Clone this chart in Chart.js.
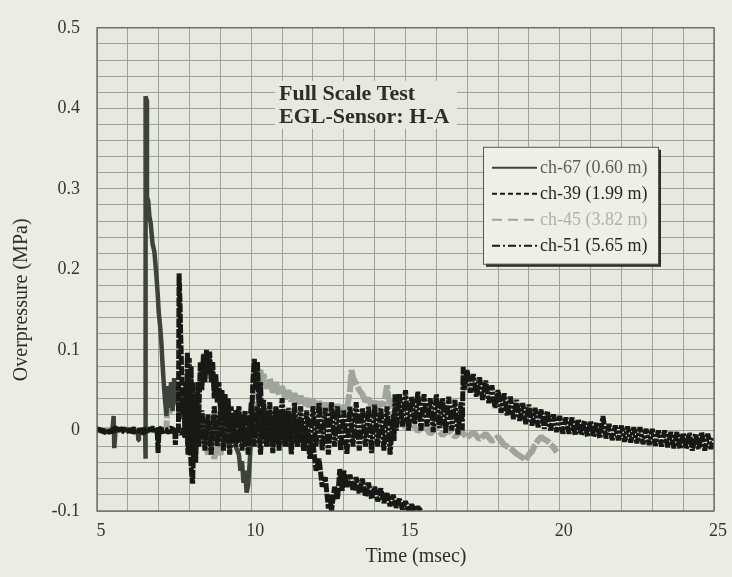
<!DOCTYPE html>
<html>
<head>
<meta charset="utf-8">
<script src="https://cdn.jsdelivr.net/npm/chart.js@4.4.1/dist/chart.umd.min.js"></script>
<style>
  html, body { margin: 0; padding: 0; background: #ecece4; }
  #wrap { width: 732px; height: 577px; }
</style>
</head>
<body>
<div id="wrap"><canvas id="blastChart" width="732" height="577"></canvas></div>
<script>
// pressure traces: [time (msec), overpressure (MPa)]
const ch67 = [[5.0,0.001],[5.3,-0.002],[5.5,0.001],[5.54,0.018],[5.56,-0.022],[5.6,0.0],[5.9,0.002],[6.2,-0.001],[6.32,0.0],[6.34,-0.012],[6.36,0.001],[6.5,0.0],[6.56,-0.001],[6.57,-0.035],[6.58,0.415],[6.61,0.41],[6.62,0.29],[6.66,0.285],[6.7,0.265],[6.74,0.258],[6.8,0.232],[6.86,0.222],[6.93,0.19],[6.97,0.168],[7.0,0.147],[7.05,0.128],[7.09,0.107],[7.12,0.085],[7.15,0.067],[7.18,0.05],[7.21,0.036],[7.25,0.018],[7.3,0.055],[7.35,0.028],[7.4,0.06],[7.45,0.024],[7.5,0.065],[7.55,0.033],[7.6,0.056],[7.65,0.02],[7.7,0.05],[7.75,0.014],[7.8,0.04],[7.85,0.0],[7.9,0.03],[7.95,-0.02],[8.0,0.02],[8.1,-0.022],[8.2,0.03],[8.3,-0.015],[8.4,0.02],[8.5,-0.02],[8.6,0.015],[8.7,-0.025],[8.8,0.02],[8.9,-0.015],[9.0,0.025],[9.1,-0.02],[9.2,0.02],[9.3,-0.025],[9.4,0.015],[9.5,-0.02],[9.6,-0.03],[9.65,-0.05],[9.7,-0.038],[9.75,-0.065],[9.8,-0.05],[9.85,-0.077],[9.9,-0.068],[9.95,-0.04],[10.0,-0.005],[10.1,0.02],[10.2,-0.01],[10.3,0.025],[10.4,-0.015],[10.5,0.02],[10.6,-0.02],[10.7,0.015],[10.8,-0.018],[10.9,0.02],[11.0,-0.015],[11.1,0.018],[11.2,-0.02],[11.3,0.015],[11.4,-0.012],[11.5,0.012],[11.6,-0.01],[11.7,0.006]];

const ch39 = [[5.0,0.002],[5.4,-0.002],[5.8,0.002],[6.2,-0.002],[6.6,0.002],[6.95,0.0],[6.98,-0.028],[7.01,0.003],[7.3,-0.002],[7.52,0.0],[7.54,-0.018],[7.57,0.002],[7.64,0.0],[7.66,0.195],[7.69,0.16],[7.71,0.123],[7.73,0.095],[7.75,0.067],[7.78,0.02],[7.82,0.04],[7.86,-0.01],[7.9,0.03],[7.95,-0.03],[8.0,0.01],[8.05,-0.045],[8.1,-0.066],[8.13,-0.02],[8.18,0.03],[8.22,0.0],[8.27,0.06],[8.3,0.02],[8.35,0.085],[8.4,0.05],[8.45,0.095],[8.5,0.06],[8.55,0.1],[8.6,0.07],[8.65,0.098],[8.7,0.06],[8.75,0.085],[8.8,0.04],[8.85,0.07],[8.9,0.035],[8.95,0.06],[9.0,0.025],[9.05,0.05],[9.1,0.015],[9.15,0.045],[9.2,0.01],[9.25,0.04],[9.3,0.0],[9.35,0.03],[9.4,-0.01],[9.5,0.025],[9.6,-0.015],[9.7,0.02],[9.8,-0.02],[9.9,0.015],[10.0,-0.01],[10.05,0.06],[10.1,0.089],[10.15,0.05],[10.2,0.085],[10.25,0.03],[10.3,0.06],[10.35,0.0],[10.4,0.03],[10.5,-0.012],[10.6,0.025],[10.7,-0.016],[10.8,0.028],[10.9,-0.01],[11.0,0.022],[11.1,-0.018],[11.2,0.02],[11.3,-0.015],[11.4,0.018],[11.5,-0.02],[11.6,0.01],[11.7,-0.025],[11.8,0.0],[11.9,-0.035],[12.0,-0.015],[12.1,-0.05],[12.2,-0.035],[12.3,-0.07],[12.4,-0.058],[12.5,-0.097],[12.55,-0.08],[12.6,-0.1],[12.7,-0.07],[12.8,-0.085],[12.87,-0.048],[12.95,-0.075],[13.0,-0.05],[13.1,-0.07],[13.2,-0.055],[13.3,-0.075],[13.4,-0.058],[13.5,-0.078],[13.6,-0.06],[13.7,-0.082],[13.8,-0.065],[13.9,-0.085],[14.0,-0.07],[14.1,-0.088],[14.2,-0.072],[14.3,-0.09],[14.4,-0.078],[14.5,-0.094],[14.6,-0.08],[14.7,-0.096],[14.8,-0.085],[14.9,-0.098],[15.0,-0.088],[15.1,-0.1],[15.2,-0.092],[15.3,-0.1],[15.4,-0.095],[15.5,-0.1]];

const ch45 = [[5.0,0.0],[6.0,0.001],[7.0,0.0],[7.25,0.002],[7.3,0.045],[7.35,0.02],[7.4,0.055],[7.45,0.03],[7.5,0.06],[7.55,0.04],[7.6,0.058],[7.65,0.03],[7.7,0.05],[7.8,0.02],[7.9,0.04],[8.0,0.0],[8.1,0.02],[8.2,-0.01],[8.3,0.01],[8.4,-0.02],[8.5,-0.005],[8.6,-0.03],[8.7,-0.015],[8.8,-0.035],[8.9,-0.02],[9.0,-0.03],[9.1,-0.01],[9.2,-0.02],[9.3,0.0],[9.4,-0.015],[9.5,0.005],[9.6,-0.01],[9.7,0.01],[9.8,0.0],[9.9,0.02],[10.0,0.01],[10.1,0.04],[10.2,0.06],[10.3,0.075],[10.35,0.058],[10.4,0.07],[10.5,0.052],[10.6,0.065],[10.7,0.047],[10.8,0.06],[10.9,0.044],[11.0,0.055],[11.1,0.039],[11.2,0.05],[11.3,0.036],[11.4,0.046],[11.5,0.033],[11.6,0.043],[11.7,0.031],[11.8,0.04],[11.9,0.027],[12.0,0.038],[12.1,0.025],[12.2,0.036],[12.3,0.024],[12.4,0.034],[12.5,0.023],[12.6,0.033],[12.7,0.022],[12.8,0.032],[12.9,0.023],[13.0,0.03],[13.1,0.026],[13.2,0.05],[13.25,0.075],[13.3,0.065],[13.4,0.058],[13.5,0.05],[13.6,0.045],[13.7,0.036],[13.8,0.04],[13.9,0.03],[14.0,0.036],[14.1,0.028],[14.2,0.035],[14.3,0.031],[14.4,0.056],[14.45,0.04],[14.5,0.035],[14.6,0.02],[14.7,0.014],[14.8,0.006],[14.9,0.012],[15.0,0.003],[15.2,0.009],[15.4,-0.001],[15.6,0.006],[15.8,-0.004],[16.0,0.003],[16.2,-0.006],[16.4,0.001],[16.6,-0.008],[16.8,-0.001],[17.0,-0.009],[17.2,-0.002],[17.4,-0.011],[17.6,-0.004],[17.8,-0.013],[18.0,-0.008],[18.2,-0.018],[18.4,-0.022],[18.6,-0.029],[18.8,-0.034],[18.9,-0.037],[19.0,-0.03],[19.1,-0.026],[19.2,-0.018],[19.3,-0.012],[19.4,-0.008],[19.5,-0.011],[19.6,-0.013],[19.7,-0.017],[19.8,-0.021],[19.9,-0.027]];

const ch51 = [[5.0,0.002],[5.3,-0.003],[5.6,0.003],[5.9,-0.002],[6.2,0.002],[6.5,-0.003],[6.8,0.003],[7.1,-0.002],[7.4,0.003],[7.7,-0.004],[7.8,0.002],[7.85,-0.008],[7.88,0.06],[7.9,0.02],[7.93,0.097],[7.96,0.04],[7.99,0.09],[8.02,0.01],[8.05,0.08],[8.08,-0.01],[8.11,0.06],[8.14,-0.03],[8.17,0.045],[8.2,-0.04],[8.25,0.03],[8.3,-0.02],[8.4,0.025],[8.5,-0.025],[8.6,0.02],[8.7,-0.03],[8.8,0.03],[8.9,-0.02],[9.0,0.025],[9.1,-0.025],[9.2,0.03],[9.3,-0.03],[9.4,0.02],[9.5,-0.02],[9.6,0.03],[9.7,-0.025],[9.8,0.025],[9.9,-0.03],[10.0,0.035],[10.1,-0.02],[10.2,0.03],[10.3,-0.03],[10.4,0.038],[10.5,-0.02],[10.6,0.035],[10.7,-0.028],[10.8,0.03],[10.9,-0.025],[11.0,0.04],[11.1,-0.02],[11.2,0.028],[11.3,-0.03],[11.4,0.035],[11.5,-0.02],[11.6,0.03],[11.7,-0.025],[11.8,0.025],[11.9,-0.03],[12.0,0.03],[12.1,-0.02],[12.2,0.035],[12.3,-0.025],[12.4,0.028],[12.5,-0.03],[12.6,0.035],[12.7,-0.02],[12.8,0.03],[12.9,-0.025],[13.0,0.025],[13.1,-0.03],[13.2,0.03],[13.3,-0.02],[13.4,0.035],[13.5,-0.025],[13.6,0.028],[13.7,-0.02],[13.8,0.03],[13.9,-0.028],[14.0,0.032],[14.1,-0.02],[14.2,0.028],[14.3,-0.025],[14.4,0.03],[14.5,-0.03],[14.6,0.02],[14.63,-0.013],[14.66,0.045],[14.7,0.0],[14.8,0.045],[14.9,0.005],[15.0,0.05],[15.1,0.0],[15.2,0.042],[15.3,0.008],[15.4,0.048],[15.5,0.0],[15.6,0.045],[15.7,0.005],[15.8,0.04],[15.9,-0.002],[16.0,0.045],[16.1,0.003],[16.2,0.04],[16.3,-0.003],[16.4,0.042],[16.5,0.0],[16.6,0.038],[16.7,-0.005],[16.8,0.035],[16.84,0.0],[16.87,0.079],[16.9,0.05],[17.0,0.075],[17.1,0.047],[17.2,0.07],[17.3,0.042],[17.4,0.066],[17.5,0.038],[17.6,0.062],[17.7,0.034],[17.8,0.056],[17.9,0.028],[18.0,0.05],[18.1,0.022],[18.2,0.046],[18.3,0.018],[18.4,0.042],[18.5,0.014],[18.6,0.038],[18.7,0.012],[18.8,0.034],[18.9,0.008],[19.0,0.032],[19.1,0.006],[19.2,0.028],[19.3,0.004],[19.4,0.026],[19.5,0.002],[19.6,0.024],[19.7,0.0],[19.8,0.02],[19.9,-0.002],[20.0,0.018],[20.1,-0.004],[20.2,0.016],[20.3,-0.004],[20.4,0.016],[20.5,-0.006],[20.6,0.014],[20.7,-0.006],[20.8,0.012],[20.9,-0.008],[21.0,0.012],[21.1,-0.008],[21.2,0.01],[21.3,-0.01],[21.4,0.018],[21.5,-0.01],[21.6,0.008],[21.7,-0.012],[21.8,0.006],[21.9,-0.012],[22.0,0.006],[22.1,-0.014],[22.2,0.005],[22.3,-0.015],[22.4,0.004],[22.5,-0.016],[22.6,0.004],[22.7,-0.017],[22.8,0.002],[22.9,-0.018],[23.0,0.002],[23.1,-0.019],[23.2,0.0],[23.3,-0.02],[23.4,0.0],[23.5,-0.021],[23.6,-0.002],[23.7,-0.022],[23.8,-0.002],[23.9,-0.023],[24.0,-0.003],[24.1,-0.023],[24.2,-0.003],[24.3,-0.025],[24.4,-0.004],[24.5,-0.023],[24.6,-0.002],[24.7,-0.025],[24.8,-0.004],[24.9,-0.023],[25.0,-0.008]];

const seriesLabels = ['ch-67 (0.60 m)', 'ch-39 (1.99 m)', 'ch-45 (3.82 m)', 'ch-51 (5.65 m)'];
const xTickLabels = ['5', '10', '15', '20', '25'];
const yTickLabels = ['-0.1', '0', '0.1', '0.2', '0.3', '0.4', '0.5'];
const chartTitle = ['Full Scale Test', 'EGL-Sensor: H-A'];
const xTitle = 'Time (msec)';
const yTitle = 'Overpressure (MPa)';

const toPoints = arr => arr.map(p => ({ x: p[0], y: p[1] }));
const serif = '"Liberation Serif", "Times New Roman", serif';

// background, frame, inset title, legend box and axis titles
const paperPlugin = {
  id: 'paper',
  beforeDraw(chart) {
    const { ctx, chartArea: a } = chart;
    ctx.save();
    ctx.fillStyle = '#ecece4';
    ctx.fillRect(0, 0, chart.width, chart.height);
    ctx.fillStyle = '#e5e9de';
    ctx.fillRect(a.left, a.top, a.right - a.left, a.bottom - a.top);
    ctx.restore();
  },
  afterDraw(chart) {
    const { ctx, chartArea: a } = chart;
    ctx.save();
    ctx.strokeStyle = '#62675e';
    ctx.lineWidth = 1.3;
    ctx.strokeRect(a.left, a.top, a.right - a.left, a.bottom - a.top);

    // inset title with a patch behind it
    const tx = a.left + 182, ty = a.top + 72;
    ctx.fillStyle = '#e5e9de';
    ctx.fillRect(tx - 4, ty - 19, 182, 48);
    ctx.font = 'bold 22px ' + serif;
    ctx.fillStyle = '#2b2e29';
    ctx.textBaseline = 'alphabetic';
    ctx.textAlign = 'left';
    ctx.fillText(chartTitle[0], tx, ty);
    ctx.fillText(chartTitle[1], tx, ty + 23);

    // legend box
    const lx = a.left + 386, ly = a.top + 119, lw = 175, lh = 117;
    ctx.fillStyle = '#2e302b';
    ctx.fillRect(lx + 3, ly + 3, lw, lh);
    ctx.fillStyle = '#eef0e8';
    ctx.fillRect(lx, ly, lw, lh);
    ctx.strokeStyle = '#55594f';
    ctx.lineWidth = 1;
    ctx.strokeRect(lx + 0.5, ly + 0.5, lw, lh);
    ctx.font = '18px ' + serif;
    ctx.textBaseline = 'middle';
    chart.data.datasets.forEach((ds, i) => {
      const y = ly + 21 + i * 26;
      ctx.strokeStyle = ds.borderColor;
      ctx.lineWidth = 2;
      ctx.setLineDash(ds.legendDash);
      ctx.beginPath();
      ctx.moveTo(lx + 9, y);
      ctx.lineTo(lx + 54, y);
      ctx.stroke();
      ctx.setLineDash([]);
      ctx.fillStyle = ds.legendText;
      ctx.fillText(ds.label, lx + 57, y);
    });

    // axis titles
    ctx.fillStyle = '#2b2e29';
    ctx.font = '20px ' + serif;
    ctx.textAlign = 'center';
    ctx.textBaseline = 'middle';
    ctx.fillText(xTitle, a.left + 319, a.bottom + 46);
    ctx.translate(22, a.top + 272);
    ctx.rotate(-Math.PI / 2);
    ctx.fillText(yTitle, 0, 0);
    ctx.restore();
  }
};

const ctx = document.getElementById('blastChart').getContext('2d');

const blastChart = new Chart(ctx, {
  type: 'line',
  data: {
    datasets: [{
      label: seriesLabels[0],
      data: toPoints(ch67),
      borderColor: '#3d423b',
      legendText: '#5a5f57',
      legendDash: [],
      borderWidth: 4.5,
      order: 2
    }, {
      label: seriesLabels[1],
      data: toPoints(ch39),
      borderColor: '#181915',
      legendText: '#262723',
      legendDash: [5, 3],
      borderDash: [9, 1.5],
      borderWidth: 5,
      order: 1
    }, {
      label: seriesLabels[2],
      data: toPoints(ch45),
      borderColor: '#a0a59b',
      legendText: '#aeb1a8',
      legendDash: [10, 6],
      borderDash: [18, 2],
      borderWidth: 6,
      order: 4
    }, {
      label: seriesLabels[3],
      data: toPoints(ch51),
      borderColor: '#181915',
      legendText: '#262723',
      legendDash: [8, 3, 2, 3],
      borderDash: [10, 1.5, 3, 1.5],
      borderWidth: 5,
      order: 0
    }]
  },
  options: {
    responsive: false,
    animation: false,
    devicePixelRatio: 1,
    layout: { padding: { left: 0, right: 18, top: 16, bottom: 0 } },
    elements: {
      point: { radius: 0 },
      line: { tension: 0, borderJoinStyle: 'bevel', borderCapStyle: 'butt' }
    },
    plugins: {
      legend: { display: false },
      tooltip: { enabled: false },
      title: { display: false }
    },
    scales: {
      x: {
        type: 'linear',
        min: 5,
        max: 25,
        afterFit: s => { s.height = 66; },
        grid: { color: '#9ca395', lineWidth: 1, drawTicks: false },
        border: { display: false },
        ticks: {
          stepSize: 1,
          padding: 9,
          labelOffset: 4,
          maxRotation: 0,
          autoSkip: false,
          color: '#33352f',
          font: { family: serif, size: 18 },
          callback: v => (v % 5 === 0 ? xTickLabels[(v - 5) / 5] : '')
        }
      },
      y: {
        min: -0.1,
        max: 0.5,
        afterFit: s => { s.width = 97; },
        grid: { color: '#9ca395', lineWidth: 1, drawTicks: false },
        border: { display: false },
        ticks: {
          stepSize: 0.02,
          padding: 17,
          autoSkip: false,
          color: '#33352f',
          font: { family: serif, size: 18 },
          callback: v => {
            const k = Math.round(v * 50);
            return k % 5 === 0 ? yTickLabels[k / 5 + 1] : '';
          }
        }
      }
    }
  },
  plugins: [paperPlugin]
});
</script>
</body>
</html>
